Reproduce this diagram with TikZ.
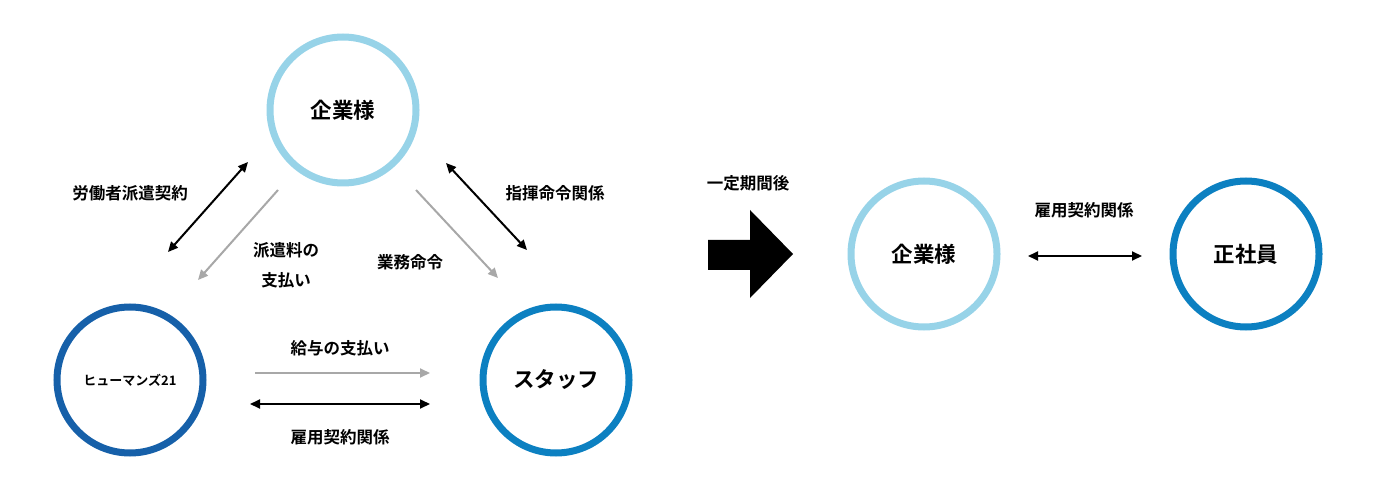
\documentclass[tikz,border=0pt]{standalone}
\usepackage{fontspec}
\setmainfont{Noto Sans CJK JP Bold}
\usetikzlibrary{arrows.meta}
\definecolor{lb}{HTML}{97D3E8}
\definecolor{db}{HTML}{1660A9}
\definecolor{mb}{HTML}{0C80C1}
\definecolor{gr}{HTML}{A8A8A8}
\begin{document}
\begin{tikzpicture}[x=1pt,y=-1pt,
  circ/.style={circle,draw,line width=7pt,minimum size=146pt,inner sep=0pt,font=\fontsize{21.5}{24}\selectfont},
  lbl/.style={font=\fontsize{16.5}{30}\selectfont,align=center},
  ga/.style={draw=gr,line width=2pt,-{Triangle[length=10pt,width=9pt]}},
  ba/.style={draw=black,line width=2pt,{Triangle[length=10pt,width=9pt]}-{Triangle[length=10pt,width=9pt]}}]
\useasboundingbox (0,0) rectangle (1378,494);
\node[circ,draw=lb] (k1) at (343,110) {企業様};
\node[circ,draw=db,font=\fontsize{13}{14}\selectfont] (h) at (130,380) {ヒューマンズ21};
\node[circ,draw=mb] (s) at (556,380) {スタッフ};
\node[circ,draw=lb] (k2) at (924,254) {企業様};
\node[circ,draw=mb] (e) at (1246,254) {正社員};
\coordinate (a1) at (248,162); \coordinate (a2) at (168,252);
\draw[ba] (a1) -- (a2);
\node[lbl] (l1) at (130,193) {労働者派遣契約};
\coordinate (b1) at (278,190); \coordinate (b2) at (198,280);
\draw[ga] (b1) -- (b2);
\node[lbl] (l2) at (286,265) {派遣料の\\支払い};
\coordinate (c1) at (416,190); \coordinate (c2) at (498,278);
\draw[ga] (c1) -- (c2);
\node[lbl] (l3) at (410,262) {業務命令};
\coordinate (d1) at (446,163); \coordinate (d2) at (527,250);
\draw[ba] (d1) -- (d2);
\node[lbl] (l4) at (555,193) {指揮命令関係};
\coordinate (f1) at (255,373); \coordinate (f2) at (430,373);
\draw[ga] (f1) -- (f2);
\node[lbl] (l5) at (340,348) {給与の支払い};
\coordinate (g1) at (250,404); \coordinate (g2) at (430,404);
\draw[ba] (g1) -- (g2);
\node[lbl] (l6) at (340,437) {雇用契約関係};
\fill (708,240) -- (750,240) -- (750,210) -- (793,254) -- (750,298) -- (750,270) -- (708,270) -- cycle;
\node[lbl] (l7) at (748,183) {一定期間後};
\coordinate (i1) at (1028,256); \coordinate (i2) at (1142,256);
\draw[ba] (i1) -- (i2);
\node[lbl] (l8) at (1084,210) {雇用契約関係};
\end{tikzpicture}
\end{document}
